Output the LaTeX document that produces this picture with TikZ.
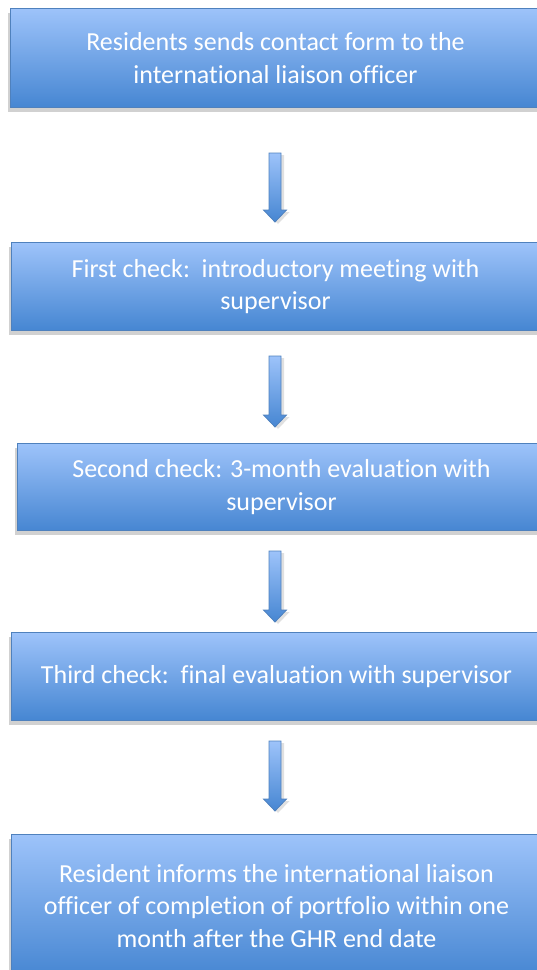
\documentclass[tikz,border=0pt]{standalone}
\usepackage{fontspec}
\setmainfont{Carlito}[Ligatures=NoCommon]
\usetikzlibrary{calc,shadows}

\definecolor{boxtop}{RGB}{157,195,250}
\definecolor{boxbot}{RGB}{70,134,210}
\definecolor{boxline}{RGB}{79,129,189}

% block arrow: upper node, gap below it, lower node, gap above it
\newcommand\flowarrow[4]{%
  \shade[flowarr] let \p1=($(#1.south -| axis)+(0,#2)$), \p2=($(#3.north -| axis)+(0,-#4)$) in
    (\x1-6pt,\y1) -- (\x1+6pt,\y1) -- (\x1+6pt,\y2+12pt) -- (\x1+11.5pt,\y2+12pt)
    -- (\x1,\y2) -- (\x1-11.5pt,\y2+12pt) -- (\x1-6pt,\y2+12pt) -- cycle;
}

\begin{document}
\begin{tikzpicture}[x=1pt, y=-1pt,
    stepbox/.style={draw=boxline, line width=1pt, top color=boxtop, bottom color=boxbot,
      anchor=north west, align=center, text=white, inner sep=0pt,
      font=\fontsize{26}{32.5}\selectfont,
      drop shadow={shadow xshift=-3pt, shadow yshift=-4pt, opacity=.3, fill=black!60}},
    flowarr/.style={draw=boxline, line width=.8pt, top color=boxtop, bottom color=boxbot,
      drop shadow={shadow xshift=3pt, shadow yshift=-2pt, opacity=.2, fill=black!60}}]
\useasboundingbox (0,0) rectangle (537,970);
\clip (0,0) rectangle (537,970);
\coordinate (axis) at (275,0);

\node[stepbox, minimum width=530pt, minimum height=99pt] (r1) at (10,8)
  {Residents sends contact form to the\\international liaison officer};
\node[stepbox, minimum width=528pt, minimum height=88pt] (r2) at (11,242)
  {First check:\ \ introductory meeting with\\supervisor};
\node[stepbox, minimum width=528pt, minimum height=87pt] (r3) at (17,443)
  {Second check: 3-month evaluation with\\supervisor};
\node[stepbox, minimum width=530pt, minimum height=88pt] (r4) at (11,632)
  {Third check:\ \ final evaluation with supervisor};
\node[stepbox, minimum width=530pt, minimum height=143pt] (r5) at (11,834)
  {Resident informs the international liaison\\officer of completion of portfolio within one\\month after the GHR end date};

\flowarrow{r1}{45}{r2}{20}
\flowarrow{r2}{25}{r3}{16}
\flowarrow{r3}{20}{r4}{10}
\flowarrow{r4}{20}{r5}{23}
\end{tikzpicture}
\end{document}
